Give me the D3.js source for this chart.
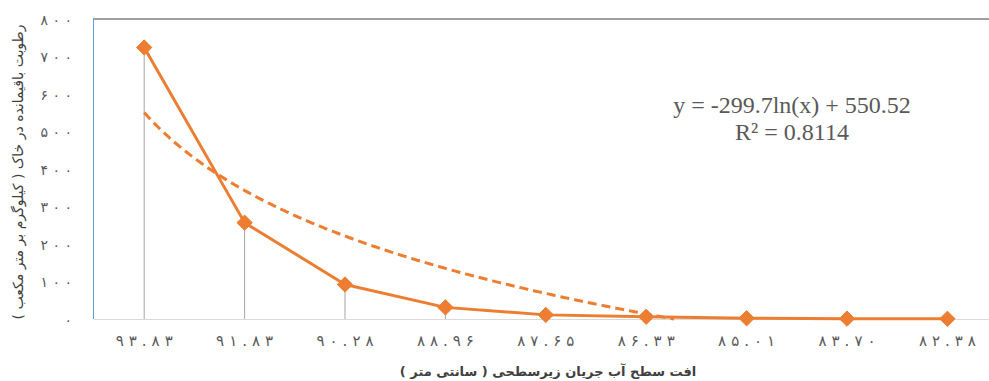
<!DOCTYPE html>
<html>
<head>
<meta charset="utf-8">
<script src="https://cdn.jsdelivr.net/npm/d3@7/dist/d3.min.js"></script>
<style>
  html, body { margin: 0; padding: 0; background: #fff; }
  svg { display: block; }
</style>
</head>
<body>
<svg id="chart" width="989" height="381"></svg>
<script>
// Groundwater level drop (cm) categories, Persian numerals
const categories = ["۹۳.۸۳", "۹۱.۸۳", "۹۰.۲۸", "۸۸.۹۶", "۸۷.۶۵", "۸۶.۳۳", "۸۵.۰۱", "۸۳.۷۰", "۸۲.۳۸"];
// Residual soil moisture (kg per cubic metre)
const moisture = [724, 257, 92, 31, 11, 6, 2, 1, 0.5];
// Y axis ticks and their Persian labels
const yTicks = [0, 100, 200, 300, 400, 500, 600, 700, 800];
const yTickLabels = ["۰", "۱۰۰", "۲۰۰", "۳۰۰", "۴۰۰", "۵۰۰", "۶۰۰", "۷۰۰", "۸۰۰"];
// Logarithmic trendline: y = a*ln(x) + b
const trendA = -299.7;
const trendB = 550.52;
const trendR2 = 0.8114;

const svg = d3.select("#chart");
const orange = "#ED7D31";
const faFont = "'DejaVu Sans', 'Noto Sans', sans-serif";

const plot = { left: 94, top: 19, bottom: 319, right: 989 };
const bandW = 100.4;

// Writes a numeral glyph by glyph with a fixed gap (letter-spacing is
// ignored for Arabic-script runs, so the gap is set with dx per glyph)
function spacedText(sel, str, gap) {
  sel.selectAll("tspan")
    .data(Array.from(str))
    .join("tspan")
    .attr("dx", (c, i) => (i === 0 ? 0 : gap))
    .text(c => c);
}

const x = d3.scaleBand()
  .domain(categories)
  .range([plot.left, plot.left + bandW * categories.length])
  .padding(0);
const xIdx = d3.scaleLinear()
  .domain([1, categories.length])
  .range([x(categories[0]) + bandW / 2, x(categories[categories.length - 1]) + bandW / 2]);
const y = d3.scaleLinear().domain([0, 800]).range([plot.bottom, plot.top]);

// Plot frame: top border and left border
svg.append("line")
  .attr("x1", plot.left - 1).attr("x2", plot.right)
  .attr("y1", plot.top).attr("y2", plot.top)
  .attr("stroke", "#404040").attr("stroke-width", 1.2);
svg.append("line")
  .attr("x1", plot.left - 0.5).attr("x2", plot.left - 0.5)
  .attr("y1", plot.top).attr("y2", plot.bottom)
  .attr("stroke", "#5B9BD5").attr("stroke-width", 1);

// X axis baseline
svg.append("line")
  .attr("x1", plot.left).attr("x2", plot.right)
  .attr("y1", plot.bottom + 0.5).attr("y2", plot.bottom + 0.5)
  .attr("stroke", "#D9D9D9").attr("stroke-width", 1);

// Y tick labels
svg.append("g")
  .selectAll("text")
  .data(yTicks)
  .join("text")
  .attr("x", 72)
  .attr("y", d => y(d))
  .attr("dy", "0.4em")
  .attr("text-anchor", "end")
  .attr("direction", "ltr")
  .attr("font-family", faFont)
  .attr("font-size", 14)
  .attr("fill", "#595959")
  .each(function (d, i) { spacedText(d3.select(this), yTickLabels[i], 4.5); });

// X tick labels
svg.append("g")
  .selectAll("text")
  .data(categories)
  .join("text")
  .attr("x", d => x(d) + bandW / 2)
  .attr("y", 346)
  .attr("text-anchor", "middle")
  .attr("direction", "ltr")
  .attr("font-family", faFont)
  .attr("font-size", 15)
  .attr("fill", "#595959")
  .each(function (d) { spacedText(d3.select(this), d, 5); });

// Drop lines from each point to the axis
svg.append("g")
  .selectAll("line")
  .data(moisture)
  .join("line")
  .attr("x1", (d, i) => x(categories[i]) + bandW / 2)
  .attr("x2", (d, i) => x(categories[i]) + bandW / 2)
  .attr("y1", d => y(d))
  .attr("y2", plot.bottom)
  .attr("stroke", "#A6A6A6")
  .attr("stroke-width", 1);

// Logarithmic trendline, clipped at the axis minimum
const trendPts = [];
for (let t = 1; t <= categories.length; t += 0.02) {
  const v = trendA * Math.log(t) + trendB;
  if (v < 0) {
    const tz = Math.exp(-trendB / trendA);
    trendPts.push([tz, 0]);
    break;
  }
  trendPts.push([t, v]);
}
svg.append("path")
  .datum(trendPts)
  .attr("fill", "none")
  .attr("stroke", orange)
  .attr("stroke-width", 3)
  .attr("stroke-dasharray", "9,5")
  .attr("d", d3.line().x(d => xIdx(d[0])).y(d => y(d[1])));

// Data line
svg.append("path")
  .datum(moisture)
  .attr("fill", "none")
  .attr("stroke", orange)
  .attr("stroke-width", 3)
  .attr("stroke-linejoin", "round")
  .attr("d", d3.line().x((d, i) => x(categories[i]) + bandW / 2).y(d => y(d)));

// Diamond markers
svg.append("g")
  .selectAll("path")
  .data(moisture)
  .join("path")
  .attr("transform", (d, i) => `translate(${x(categories[i]) + bandW / 2},${y(d)})`)
  .attr("d", d3.symbol().type(d3.symbolDiamond2).size(150))
  .attr("fill", orange)
  .attr("stroke", orange)
  .attr("stroke-width", 1);

// Trendline equation
const eq = svg.append("g")
  .attr("font-family", "'Liberation Serif', 'Times New Roman', serif")
  .attr("font-size", 24)
  .attr("fill", "#595959")
  .attr("text-anchor", "middle");
eq.append("text").attr("x", 792).attr("y", 113)
  .text(`y = ${trendA}ln(x) + ${trendB}`);
eq.append("text").attr("x", 792).attr("y", 140)
  .text(`R² = ${trendR2}`);

// Axis titles
svg.append("text")
  .attr("x", 548)
  .attr("y", 376)
  .attr("text-anchor", "middle")
  .attr("direction", "rtl")
  .attr("font-family", faFont)
  .attr("font-size", 13)
  .attr("font-weight", "bold")
  .attr("fill", "#404040")
  .text("افت سطح آب جریان زیرسطحی ( سانتی متر )");

svg.append("text")
  .attr("transform", "translate(23,172) rotate(-90)")
  .attr("text-anchor", "middle")
  .attr("direction", "rtl")
  .attr("font-family", faFont)
  .attr("font-size", 14)
  .attr("fill", "#404040")
  .text("رطوبت باقیمانده در خاک ( کیلوگرم بر متر مکعب )");
</script>
</body>
</html>
